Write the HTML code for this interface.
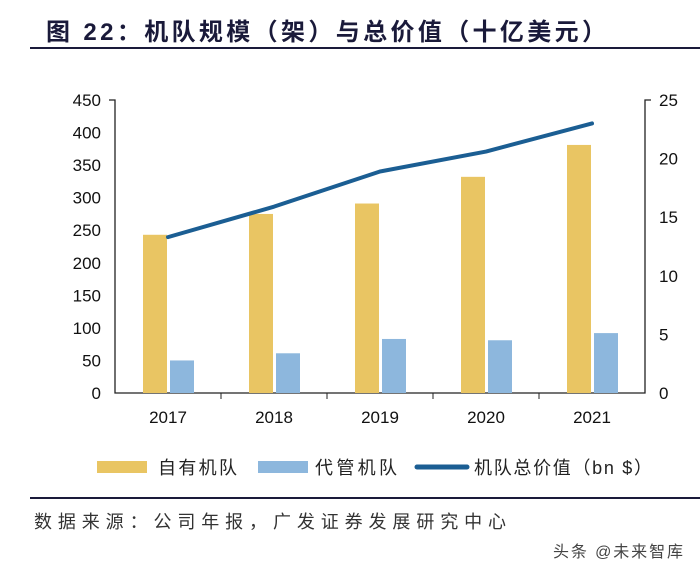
<!DOCTYPE html>
<html><head><meta charset="utf-8"><style>
body{margin:0;width:700px;height:573px;background:#fff;overflow:hidden;font-family:"Liberation Sans","Noto Sans CJK SC",sans-serif;}
</style></head><body>
<svg width="700" height="573" style="position:absolute;left:0;top:0">
<text x="46" y="40" font-size="24" font-weight="bold" fill="#1a1a3a" textLength="560" lengthAdjust="spacing">图 22：机队规模（架）与总价值（十亿美元）</text>
<line x1="30" y1="48" x2="700" y2="48" stroke="#1a1a3a" stroke-width="2"/>
<g id="plot"></g>
<g>
<rect x="97" y="461" width="50" height="12" fill="#E9C563"/>
<text x="158" y="474" font-size="18" fill="#222" textLength="79" lengthAdjust="spacing">自有机队</text>
<rect x="258" y="461" width="50" height="12" fill="#8DB7DD"/>
<text x="315" y="474" font-size="18" fill="#222" textLength="82" lengthAdjust="spacing">代管机队</text>
<line x1="417" y1="467" x2="467" y2="467" stroke="#1B5E93" stroke-width="5" stroke-linecap="round"/>
<text x="474" y="474" font-size="18" fill="#222" textLength="178" lengthAdjust="spacing">机队总价值（bn $）</text>
</g>
<line x1="30" y1="498" x2="700" y2="498" stroke="#1a1a3a" stroke-width="2"/>
<text x="34" y="528" font-size="18" fill="#333" textLength="472" lengthAdjust="spacing">数据来源：公司年报，广发证券发展研究中心</text>
<text x="553" y="557" font-size="16" fill="#444" textLength="130" lengthAdjust="spacing">头条 @未来智库</text>
</svg>
<script>
const categories=["2017","2018","2019","2020","2021"];
const ownFleet=[243,275,291,332,381];
const managedFleet=[50,61,83,81,92];
const fleetValue=[13.3,15.9,18.9,20.6,23.0];
const leftTicks=[0,50,100,150,200,250,300,350,400,450];
const rightTicks=[0,5,10,15,20,25];
const NS="http://www.w3.org/2000/svg";
const g=document.getElementById('plot');
const X0=115,X1=645,Y0=393,Y1=100;
const step=(X1-X0)/categories.length;
const cx=i=>X0+step*(i+0.5);
const yL=v=>Y0-(v/450)*(Y0-Y1);
const yR=v=>Y0-(v/25)*(Y0-Y1);
function mk(t,a){const e=document.createElementNS(NS,t);for(const k in a)e.setAttribute(k,a[k]);g.appendChild(e);return e;}
let e;
e=mk('path',{d:`M${X0-6} ${Y1}H${X0}V${Y0}H${X1}V${Y1}H${X1+6}`,fill:'none',stroke:'#222','stroke-width':1.3});


leftTicks.forEach(v=>{
 const t=mk('text',{x:X0-14,y:yL(v)+6,'text-anchor':'end','font-size':17,fill:'#111'});t.textContent=v;
 
 
});
rightTicks.forEach(v=>{
 const t=mk('text',{x:X1+14,y:yR(v)+6,'font-size':17,fill:'#111'});t.textContent=v;
 
 
});
categories.forEach((c,i)=>{
 if(i<categories.length-1){const tk=mk('line',{x1:X0+step*(i+1),x2:X0+step*(i+1),y1:Y0,y2:Y0+6,stroke:'#222'});
 
 }
 const t=mk('text',{x:cx(i),y:Y0+30,'text-anchor':'middle','font-size':17,fill:'#111'});t.textContent=c;
 
 
 const b1=mk('rect',{x:cx(i)-25,y:yL(ownFleet[i]),width:24,height:Y0-yL(ownFleet[i]),fill:'#E9C563'});
 
 
 const b2=mk('rect',{x:cx(i)+2,y:yL(managedFleet[i]),width:24,height:Y0-yL(managedFleet[i]),fill:'#8DB7DD'});
 
 
});
const ln=mk('polyline',{points:fleetValue.map((v,i)=>cx(i)+','+yR(v)).join(' '),fill:'none',stroke:'#1B5E93','stroke-width':4,'stroke-linejoin':'round','stroke-linecap':'round'});


</script>
</body></html>
